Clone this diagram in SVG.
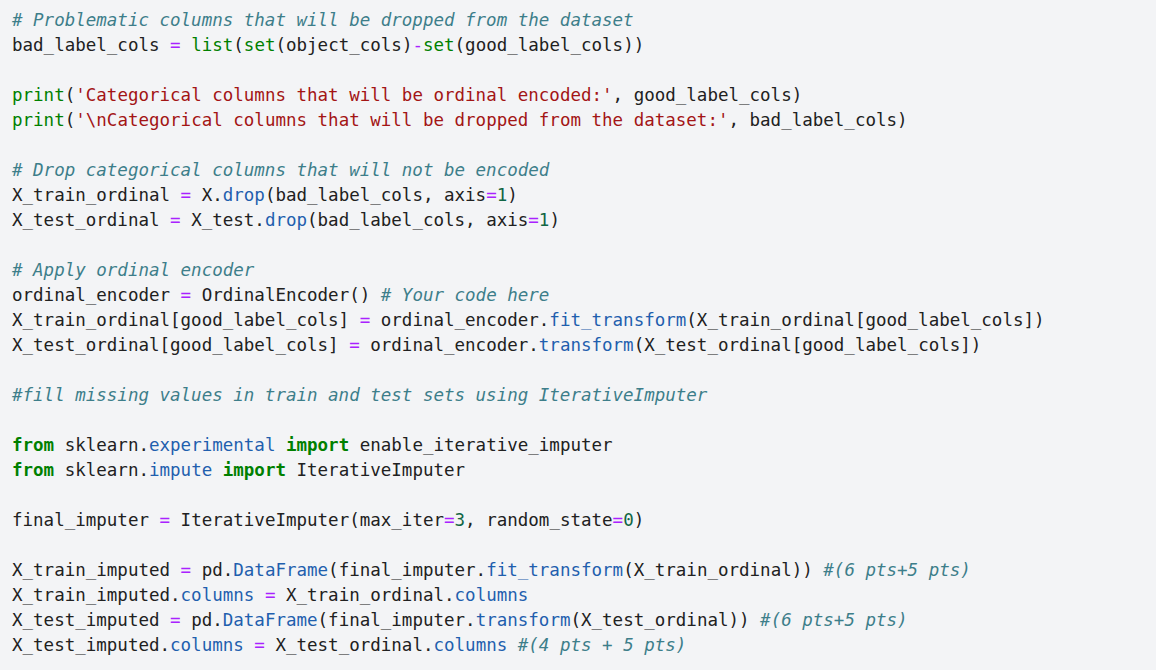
<svg xmlns="http://www.w3.org/2000/svg" width="1156" height="670" viewBox="0 0 1156 670" xml:space="preserve">
<style>
text{font-family:"DejaVu Sans Mono","Liberation Mono",monospace;font-size:17.5px;fill:#212121;white-space:pre}
.c{fill:#3d7e8a;font-style:italic}
.s{fill:#a31515}
.k{fill:#008000;font-weight:bold}
.b{fill:#008000}
.n{fill:#116644}
.o{fill:#aa22ff}
.p{fill:#1f5fae}
</style>
<rect x="0" y="0" width="1156" height="670" fill="#f3f4f6"/>
<g id="code" transform="translate(0,1)">
<text x="12" y="25"><tspan class="c"># Problematic columns that will be dropped from the dataset</tspan></text>
<text x="12" y="50">bad_label_cols <tspan class="o">=</tspan> <tspan class="b">list</tspan>(<tspan class="b">set</tspan>(object_cols)<tspan class="o">-</tspan><tspan class="b">set</tspan>(good_label_cols))</text>
<text x="12" y="100"><tspan class="b">print</tspan>(<tspan class="s">'Categorical columns that will be ordinal encoded:'</tspan>, good_label_cols)</text>
<text x="12" y="125"><tspan class="b">print</tspan>(<tspan class="s">'\nCategorical columns that will be dropped from the dataset:'</tspan>, bad_label_cols)</text>
<text x="12" y="175"><tspan class="c"># Drop categorical columns that will not be encoded</tspan></text>
<text x="12" y="200">X_train_ordinal <tspan class="o">=</tspan> X.<tspan class="p">drop</tspan>(bad_label_cols, axis<tspan class="o">=</tspan><tspan class="n">1</tspan>)</text>
<text x="12" y="225">X_test_ordinal <tspan class="o">=</tspan> X_test.<tspan class="p">drop</tspan>(bad_label_cols, axis<tspan class="o">=</tspan><tspan class="n">1</tspan>)</text>
<text x="12" y="275"><tspan class="c"># Apply ordinal encoder</tspan></text>
<text x="12" y="300">ordinal_encoder <tspan class="o">=</tspan> OrdinalEncoder() <tspan class="c"># Your code here</tspan></text>
<text x="12" y="325">X_train_ordinal[good_label_cols] <tspan class="o">=</tspan> ordinal_encoder.<tspan class="p">fit_transform</tspan>(X_train_ordinal[good_label_cols])</text>
<text x="12" y="350">X_test_ordinal[good_label_cols] <tspan class="o">=</tspan> ordinal_encoder.<tspan class="p">transform</tspan>(X_test_ordinal[good_label_cols])</text>
<text x="12" y="400"><tspan class="c">#fill missing values in train and test sets using IterativeImputer</tspan></text>
<text x="12" y="450"><tspan class="k">from</tspan> sklearn.<tspan class="p">experimental</tspan> <tspan class="k">import</tspan> enable_iterative_imputer</text>
<text x="12" y="475"><tspan class="k">from</tspan> sklearn.<tspan class="p">impute</tspan> <tspan class="k">import</tspan> IterativeImputer</text>
<text x="12" y="525">final_imputer <tspan class="o">=</tspan> IterativeImputer(max_iter<tspan class="o">=</tspan><tspan class="n">3</tspan>, random_state<tspan class="o">=</tspan><tspan class="n">0</tspan>)</text>
<text x="12" y="575">X_train_imputed <tspan class="o">=</tspan> pd.<tspan class="p">DataFrame</tspan>(final_imputer.<tspan class="p">fit_transform</tspan>(X_train_ordinal)) <tspan class="c">#(6 pts+5 pts)</tspan></text>
<text x="12" y="600">X_train_imputed.<tspan class="p">columns</tspan> <tspan class="o">=</tspan> X_train_ordinal.<tspan class="p">columns</tspan></text>
<text x="12" y="625">X_test_imputed <tspan class="o">=</tspan> pd.<tspan class="p">DataFrame</tspan>(final_imputer.<tspan class="p">transform</tspan>(X_test_ordinal)) <tspan class="c">#(6 pts+5 pts)</tspan></text>
<text x="12" y="650">X_test_imputed.<tspan class="p">columns</tspan> <tspan class="o">=</tspan> X_test_ordinal.<tspan class="p">columns</tspan> <tspan class="c">#(4 pts + 5 pts)</tspan></text>
</g>
</svg>
